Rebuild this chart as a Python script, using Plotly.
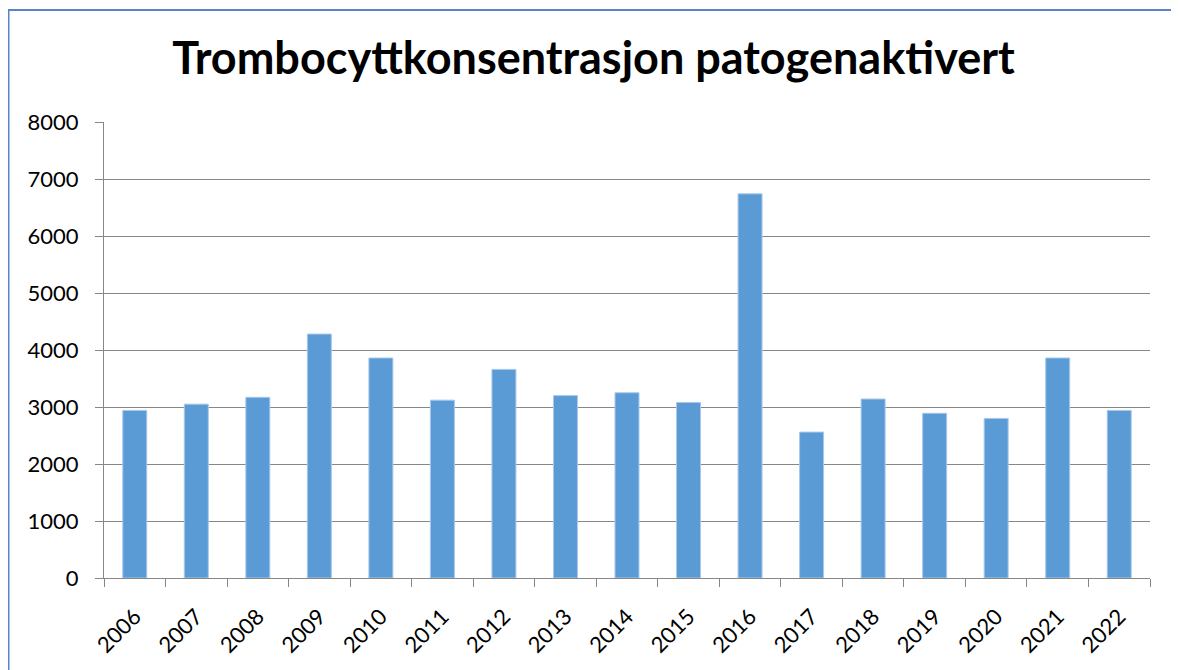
import plotly.graph_objects as go

years = ["2006", "2007", "2008", "2009", "2010", "2011", "2012", "2013", "2014",
         "2015", "2016", "2017", "2018", "2019", "2020", "2021", "2022"]
values = [2940, 3050, 3170, 4280, 3860, 3120, 3660, 3200, 3250,
          3080, 6740, 2560, 3140, 2890, 2800, 3860, 2940]
y_ticks = [0, 1000, 2000, 3000, 4000, 5000, 6000, 7000, 8000]
title_text = "Trombocyttkonsentrasjon patogenaktivert"

# page body has an 8px margin, so the figure is 8px smaller than the window
W, H = 1171, 662
ml, mr, mt, mb = 96, 29, 114, 92
pw, ph = W - ml - mr, H - mt - mb

def px_to_paper(x, y):
    return (x - ml) / pw, (H - mb - y) / ph

fig = go.Figure()
fig.add_trace(go.Bar(
    x=years, y=values,
    marker=dict(color="#5B9BD5", line=dict(color="#A9C8EA", width=1)),
    hoverinfo="x+y",
))

x0, y0 = px_to_paper(0.5, 680)
x1, y1 = px_to_paper(1169.5, 2)

fig.update_layout(
    width=W, height=H,
    margin=dict(l=ml, r=mr, t=mt, b=mb, autoexpand=False),
    paper_bgcolor="white", plot_bgcolor="white",
    bargap=0.61,
    showlegend=False,
    font=dict(family="Lato, Carlito, Calibri, sans-serif", color="black"),
    title=dict(text="<b>" + title_text + "</b>", x=0.5, xref="container", xanchor="center",
               y=1 - 50.5 / H, yref="container", yanchor="middle",
               font=dict(size=45, family="Lato, sans-serif", color="black")),
    xaxis=dict(
        type="category", tickangle=-45, tickfont=dict(size=22),
        automargin=False, ticklabelstandoff=16,
        showline=True, linecolor="#878787", linewidth=1,
        ticks="outside", tickson="boundaries", ticklen=8, tickcolor="#878787",
        showgrid=False, zeroline=False,
    ),
    yaxis=dict(
        range=[0, 8000], tickvals=y_ticks, ticktext=[str(v) for v in y_ticks],
        tickfont=dict(size=22), automargin=False, ticklabelstandoff=12,
        showline=True, linecolor="#878787", linewidth=1,
        ticks="outside", ticklen=8, tickcolor="#878787",
        showgrid=True, gridcolor="#878787", gridwidth=1,
        zeroline=False,
    ),
    shapes=[dict(type="rect", xref="paper", yref="paper",
                 x0=x0, x1=x1, y0=y0, y1=y1,
                 line=dict(color="#5B84C8", width=2), layer="below")],
)

fig.write_html("out.html")
